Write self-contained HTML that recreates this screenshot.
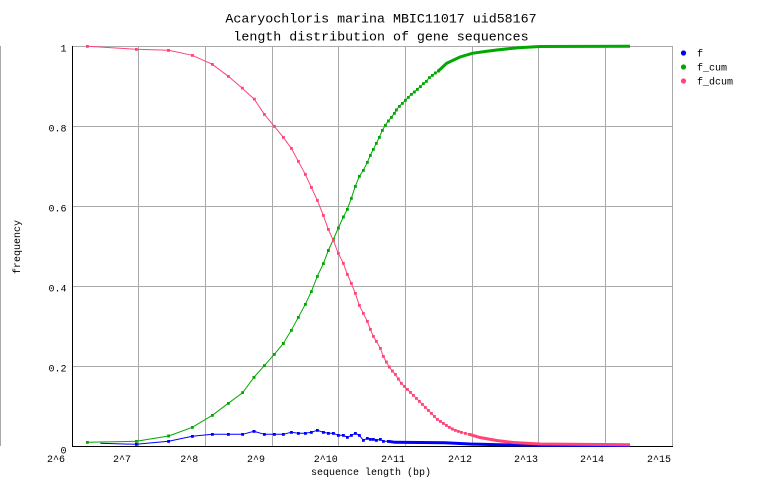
<!DOCTYPE html>
<html>
<head>
<meta charset="utf-8">
<style>
html,body{margin:0;padding:0;background:#fff;}
svg{display:block;}
text{font-family:"Liberation Mono","DejaVu Sans Mono",monospace;fill:#000;}
</style>
</head>
<body>
<svg width="762" height="498" viewBox="0 0 762 498" xmlns="http://www.w3.org/2000/svg">
<defs>
<marker id="mb" markerWidth="3" markerHeight="3" refX="1.5" refY="1.5" markerUnits="userSpaceOnUse"><rect width="3" height="3" fill="#0000ff"/></marker>
<marker id="mg" markerWidth="3" markerHeight="3" refX="1.5" refY="1.5" markerUnits="userSpaceOnUse"><rect width="3" height="3" fill="#00a800"/></marker>
<marker id="mp" markerWidth="3" markerHeight="3" refX="1.5" refY="1.5" markerUnits="userSpaceOnUse"><rect width="3" height="3" fill="#ff4477"/></marker>
</defs>
<rect width="762" height="498" fill="#fff"/>

<!-- left stray gray line -->
<line x1="0.5" y1="46" x2="0.5" y2="446" stroke="#aaaaaa" stroke-width="1"/>

<!-- grid -->
<g stroke="#aaaaaa" stroke-width="1" fill="none">
<line x1="73" y1="46.5" x2="672" y2="46.5"/>
<line x1="73" y1="126.5" x2="672" y2="126.5"/>
<line x1="73" y1="206.5" x2="672" y2="206.5"/>
<line x1="73" y1="286.5" x2="672" y2="286.5"/>
<line x1="73" y1="366.5" x2="672" y2="366.5"/>
<line x1="138.5" y1="46" x2="138.5" y2="446"/>
<line x1="205.5" y1="46" x2="205.5" y2="446"/>
<line x1="272.5" y1="46" x2="272.5" y2="446"/>
<line x1="338.5" y1="46" x2="338.5" y2="446"/>
<line x1="405.5" y1="46" x2="405.5" y2="446"/>
<line x1="472.5" y1="46" x2="472.5" y2="446"/>
<line x1="538.5" y1="46" x2="538.5" y2="446"/>
<line x1="605.5" y1="46" x2="605.5" y2="446"/>
<line x1="672.5" y1="46" x2="672.5" y2="446"/>
</g>

<!-- axes -->
<line x1="72.5" y1="46" x2="72.5" y2="447" stroke="#000" stroke-width="1"/>
<line x1="72" y1="446.5" x2="673" y2="446.5" stroke="#000" stroke-width="1"/>

<!-- f (blue) -->
<polyline fill="none" stroke="#0000ff" stroke-width="1" marker-mid="url(#mb)" marker-end="url(#mb)"
points="100.3,443.3 136.3,444.3 168.7,441.3 192.3,436.3 212.3,434.3 228.3,434.3 242.7,434.3 254,431.3 264.3,434.3 274.3,434.3 283.3,434.3 291.3,432.3 298.3,433.3 305.3,433.3 311.3,432.3 317.3,430.3 323.3,432.3 328.3,433.3 333.3,433.3 338.3,435.3 343.3,435.3 347.3,437.3 351.3,435.3 355.3,433.3 359.3,435.3 363.3,440.3 367.3,438.3 370.3,439.3 373.3,439.3 376.3,440.3 380.3,439.3 383.3,441.3 388.3,441.3"/>
<polyline fill="none" stroke="#0000ff" stroke-width="3"
points="388.3,441.3 395,442.3 420,442.5 445,442.8 460,443.5 470,444 500,444.8 540,445.3 630,445.5"/>

<!-- f_cum (green) -->
<polyline fill="none" stroke="#00a800" stroke-width="1" marker-start="url(#mg)" marker-mid="url(#mg)" marker-end="url(#mg)"
points="87.3,442.3 136.3,441.3 168.7,436 192.3,427.3 212.3,415.3 228.3,403.3 242.7,392.7 254,377.3 264.3,365.7 274.3,354.3 283.3,343.5 291.3,330.3 298.3,317.3 305.3,304.3 311.3,291.7 317.3,276.3 323.3,263.7 328.3,250.5 333.3,239.5 338.3,228 343.3,217 347.3,209.3 351.3,198.3 355.3,186.3 359.3,176.3 363.3,170.3 367.3,162.3 370.3,155.3 373.3,149.3 376.3,143.3 379.3,137.3 382.3,130.3 385.3,125.3 388.3,121 391.3,117.3 394.3,113.3 396.3,110 399.3,106.3 402.3,103.3 405.3,100.3 408.3,97.3 411.3,94.3 414.3,92 417.3,89.3 420.3,86.7 423.3,83.7 426.3,81.3 429.3,77.7 432.3,75.3 435.3,73 438.3,71"/>
<polyline fill="none" stroke="#00a800" stroke-width="3"
points="438.3,71 446.7,63.3 460,57 472.3,53.3 485,51.5 496.7,50 518.3,47.7 540,46.5 630,46.3"/>

<!-- f_dcum (pink) -->
<polyline fill="none" stroke="#ff4477" stroke-width="1" marker-start="url(#mp)" marker-mid="url(#mp)" marker-end="url(#mp)"
points="87.3,46.3 136.3,49.3 168.5,50.3 192.3,55.3 212.3,64.3 228.3,76.3 242.3,88.2 254.3,99.2 264.3,114.3 274.3,126.3 283.3,137.3 291.3,148.3 298.3,161.3 305.3,174.3 311.3,187.3 317.3,200.3 323.3,215.3 328.3,229.3 333.3,240.5 338.3,253.3 343.3,263.3 347.3,274.3 351.3,283.3 355.3,293.3 359.3,305.3 363.3,313.3 367.3,321.3 370.3,329.3 373.3,336.3 376.3,341.3 380.3,348.3 383.3,356.3 386.3,362 389.3,367 392.3,371 395.3,374.3 398.3,379 401.3,383.3 404.3,386.3 407.3,389.3 410.3,392.3 413.3,395.3 416.3,398.3 419.3,401.3 422.3,404.3 425.3,407.3 428.3,410.3 431.3,413.3 434.3,416.3 437.3,419.3 440.3,421.3 443.3,423.3 446.3,425.3 449.3,427.3 452.3,429 455.3,430.3 458.3,431.3 461.3,432.3 465.3,433.3 469.3,434.3"/>
<polyline fill="none" stroke="#ff4477" stroke-width="3"
points="469.3,434.3 480,437.5 496.7,440.5 513.3,442.5 540,444 630,444.7"/>

<!-- y tick labels -->
<g font-size="10" text-anchor="end">
<text x="66.5" y="51.5">1</text>
<text x="66.5" y="131.5">0.8</text>
<text x="66.5" y="211.5">0.6</text>
<text x="66.5" y="291.5">0.4</text>
<text x="66.5" y="371.5">0.2</text>
<text x="66.5" y="453.5">0</text>
</g>

<!-- x tick labels -->
<g font-size="10" text-anchor="middle">
<text x="56" y="462">2^6</text>
<text x="122" y="462">2^7</text>
<text x="189.3" y="462">2^8</text>
<text x="256" y="462">2^9</text>
<text x="325.7" y="462">2^10</text>
<text x="393" y="462">2^11</text>
<text x="460" y="462">2^12</text>
<text x="526" y="462">2^13</text>
<text x="592" y="462">2^14</text>
<text x="659" y="462">2^15</text>
</g>

<!-- axis labels -->
<text x="371" y="475" font-size="10" text-anchor="middle">sequence length (bp)</text>
<text transform="translate(20,247) rotate(-90)" font-size="10" text-anchor="middle">frequency</text>

<!-- title -->
<text x="381" y="22.5" font-size="13.3" text-anchor="middle">Acaryochloris marina MBIC11017 uid58167</text>
<text x="381" y="40.5" font-size="13.3" text-anchor="middle">length distribution of gene sequences</text>

<!-- legend -->
<circle cx="683.5" cy="53" r="2.6" fill="#0000ff"/>
<circle cx="683.5" cy="67" r="2.6" fill="#00a800"/>
<circle cx="683.5" cy="81" r="2.6" fill="#ff4477"/>
<g font-size="10">
<text x="697" y="56.5">f</text>
<text x="697" y="70.5">f_cum</text>
<text x="697" y="84.5">f_dcum</text>
</g>
</svg>
</body>
</html>
